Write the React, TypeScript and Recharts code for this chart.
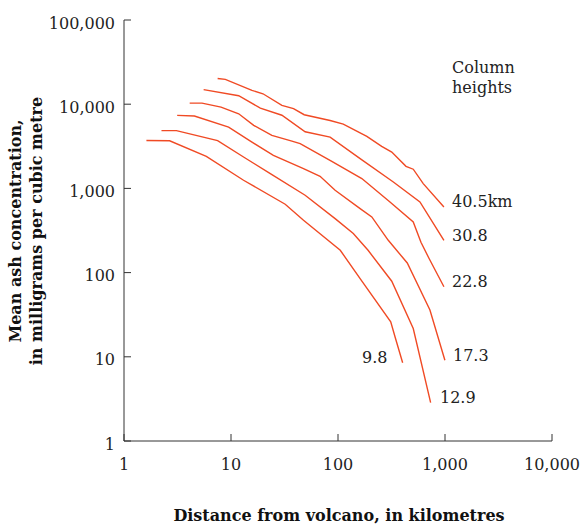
import React from 'react';
import { LineChart, Line, XAxis, YAxis } from 'recharts';

const xTicks = [1, 10, 100, 1000, 10000];
const yTicks = [1, 10, 100, 1000, 10000, 100000];

const h405 = [
  { x: 7.5, y: 20200 }, { x: 8.85, y: 19700 }, { x: 15.7, y: 14600 }, { x: 19.9, y: 13300 },
  { x: 29.9, y: 9700 }, { x: 38.4, y: 8850 }, { x: 48.3, y: 7500 }, { x: 84.4, y: 6400 },
  { x: 112, y: 5800 }, { x: 186, y: 4150 }, { x: 256, y: 3160 }, { x: 318, y: 2700 },
  { x: 432, y: 1830 }, { x: 505, y: 1690 }, { x: 626, y: 1140 }, { x: 977, y: 600 },
];
const h308 = [
  { x: 5.55, y: 14900 }, { x: 11.8, y: 12600 }, { x: 18.8, y: 9000 }, { x: 29.9, y: 7400 },
  { x: 49.3, y: 4700 }, { x: 84.4, y: 4070 }, { x: 161, y: 2260 }, { x: 329, y: 1190 },
  { x: 583, y: 690 }, { x: 977, y: 242 },
];
const h228 = [
  { x: 4.11, y: 10300 }, { x: 5.36, y: 10300 }, { x: 8.07, y: 9240 }, { x: 11.8, y: 7700 },
  { x: 16.3, y: 5600 }, { x: 24.1, y: 4260 }, { x: 37.1, y: 3650 }, { x: 44.3, y: 3400 },
  { x: 87.5, y: 2100 }, { x: 167, y: 1310 }, { x: 306, y: 690 }, { x: 505, y: 400 },
  { x: 596, y: 229 }, { x: 708, y: 148 }, { x: 977, y: 68 },
];
const h173 = [
  { x: 3.14, y: 7370 }, { x: 4.55, y: 7230 }, { x: 9.5, y: 5350 }, { x: 15.7, y: 3550 },
  { x: 24.9, y: 2470 }, { x: 47.6, y: 1720 }, { x: 68, y: 1390 }, { x: 94, y: 950 },
  { x: 161, y: 576 }, { x: 207, y: 458 }, { x: 295, y: 242 }, { x: 444, y: 130 },
  { x: 723, y: 36 }, { x: 998, y: 9.1 },
];
const h129 = [
  { x: 2.24, y: 4850 }, { x: 3.09, y: 4850 }, { x: 7.5, y: 3700 }, { x: 13.1, y: 2360 },
  { x: 23.3, y: 1500 }, { x: 49.3, y: 830 }, { x: 94, y: 438 }, { x: 139, y: 291 },
  { x: 191, y: 184 }, { x: 318, y: 79 }, { x: 505, y: 21.7 }, { x: 734, y: 2.85 },
];
const h98 = [
  { x: 1.62, y: 3700 }, { x: 2.67, y: 3680 }, { x: 5.88, y: 2400 }, { x: 13.1, y: 1250 },
  { x: 32.1, y: 648 }, { x: 47.6, y: 418 }, { x: 105, y: 184 }, { x: 161, y: 85 },
  { x: 311, y: 26 }, { x: 341, y: 17.3 }, { x: 402, y: 8.5 },
];

const series = [h405, h308, h228, h173, h129, h98];

const curveLabels = [
  { text: '40.5km', x: 452, y: 207 },
  { text: '30.8', x: 452, y: 241 },
  { text: '22.8', x: 452, y: 287 },
  { text: '17.3', x: 453, y: 361 },
  { text: '12.9', x: 440, y: 403 },
  { text: '9.8', x: 362, y: 363 },
];

const FONT = '"DejaVu Serif", serif';
const RED = '#f04a24';
const AXIS = '#333';

const fmt = (v: number) => v.toLocaleString('en-US');

const YTick = (props: any) => {
  const { x, y, payload } = props;
  return (
    <g>
      <line x1={x + 9} x2={x + 16} y1={y} y2={y} stroke={AXIS} strokeWidth={1} />
      <text x={x} y={y} dy={8.5} textAnchor="end" fontFamily={FONT} fontSize={16} fill="#222">
        {fmt(payload.value)}
      </text>
    </g>
  );
};

const XTick = (props: any) => {
  const { x, y, payload } = props;
  return (
    <g>
      <line x1={x} x2={x} y1={y} y2={y - 7} stroke={AXIS} strokeWidth={1} />
      <text x={x} y={y + 29} textAnchor="middle" fontFamily={FONT} fontSize={16} fill="#222">
        {fmt(payload.value)}
      </text>
    </g>
  );
};

export default function App() {
  return (
    <div style={{ position: 'absolute', left: 0, top: 0, width: 582, height: 527, background: '#fff' }}>
      <LineChart width={582} height={527} margin={{ top: 20, right: 30, left: 0, bottom: 0 }}>
        <XAxis
          type="number"
          dataKey="x"
          scale="log"
          domain={[1, 10000]}
          ticks={xTicks}
          allowDataOverflow
          height={86}
          tickSize={0}
          tickMargin={0}
          tickLine={false}
          axisLine={{ stroke: AXIS, strokeWidth: 1 }}
          tick={<XTick />}
          interval={0}
        />
        <YAxis
          type="number"
          dataKey="y"
          scale="log"
          domain={[1, 100000]}
          ticks={yTicks}
          allowDataOverflow
          width={124}
          tickSize={0}
          tickMargin={9}
          tickLine={false}
          axisLine={{ stroke: AXIS, strokeWidth: 1 }}
          tick={<YTick />}
          interval={0}
        />
        {series.map((d, i) => (
          <Line
            key={i}
            data={d}
            dataKey="y"
            type="linear"
            stroke={RED}
            strokeWidth={1.4}
            dot={false}
            activeDot={false}
            isAnimationActive={false}
          />
        ))}
      </LineChart>
      <svg
        width={582}
        height={527}
        style={{ position: 'absolute', left: 0, top: 0, pointerEvents: 'none' }}
      >
        <text x={452} y={73} fontFamily={FONT} fontSize={16} fill="#222">Column</text>
        <text x={452} y={93} fontFamily={FONT} fontSize={16} fill="#222">heights</text>
        {curveLabels.map((l) => (
          <text key={l.text} x={l.x} y={l.y} fontFamily={FONT} fontSize={16} fill="#222">
            {l.text}
          </text>
        ))}
        <text x={339} y={521} textAnchor="middle" fontFamily={FONT} fontSize={16} fontWeight="bold" fill="#111">
          Distance from volcano, in kilometres
        </text>
        <g transform="translate(0,231) rotate(-90)">
          <text x={0} y={21} textAnchor="middle" fontFamily={FONT} fontSize={16} fontWeight="bold" fill="#111">
            Mean ash concentration,
          </text>
          <text x={0} y={42} textAnchor="middle" fontFamily={FONT} fontSize={16} fontWeight="bold" fill="#111">
            in milligrams per cubic metre
          </text>
        </g>
      </svg>
    </div>
  );
}
